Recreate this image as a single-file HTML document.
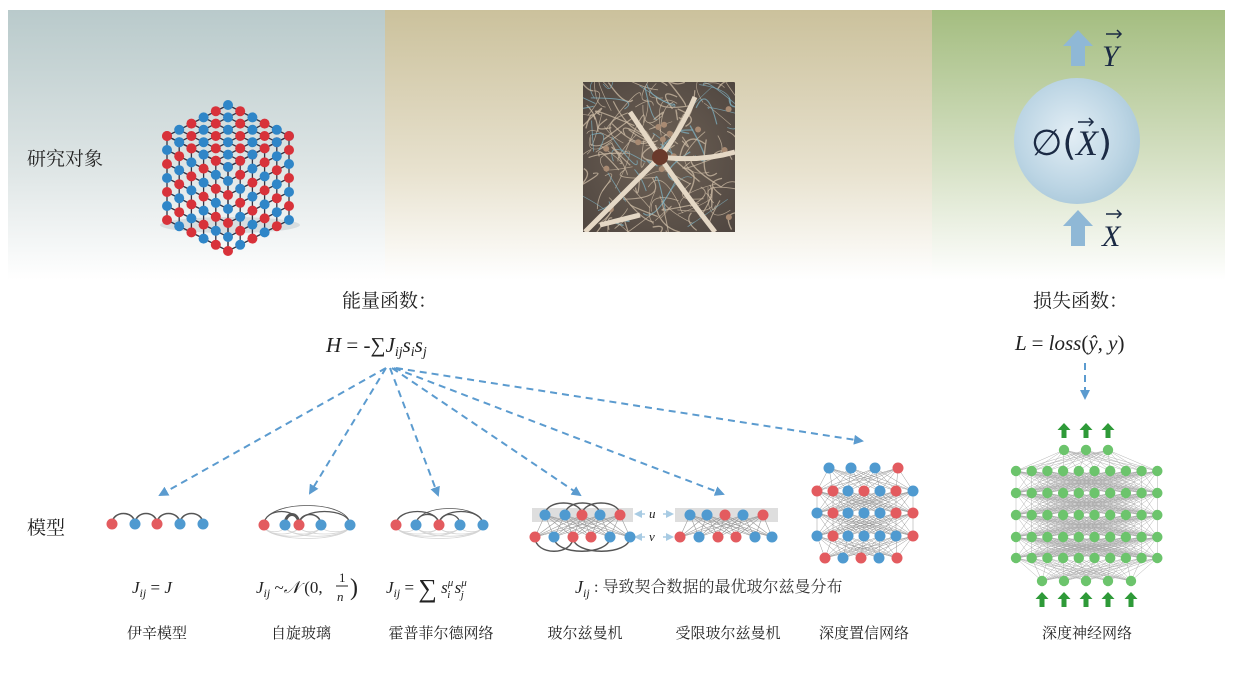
<!DOCTYPE html>
<html><head><meta charset="utf-8">
<style>
html,body{margin:0;padding:0;background:#fff;width:1233px;height:678px;overflow:hidden}
svg{display:block}
text{font-family:"Liberation Serif","Noto Serif CJK SC",serif;fill:#222}
.cn{font-family:"Liberation Serif","Noto Serif CJK SC",serif}
.m{font-family:"Liberation Serif","DejaVu Serif",serif;font-style:italic}
</style></head><body>
<svg id="s" width="1233" height="678" viewBox="0 0 1233 678" xmlns="http://www.w3.org/2000/svg">
<defs>
<linearGradient id="g1" x1="0" y1="0" x2="0" y2="1"><stop offset="0" stop-color="#b9cacb"/><stop offset="0.6" stop-color="#dfe6e6"/><stop offset="1" stop-color="#ffffff"/></linearGradient>
<linearGradient id="g2" x1="0" y1="0" x2="0" y2="1"><stop offset="0" stop-color="#cbc19c"/><stop offset="0.6" stop-color="#e8e2cf"/><stop offset="1" stop-color="#ffffff"/></linearGradient>
<linearGradient id="g3" x1="0" y1="0" x2="0" y2="1"><stop offset="0" stop-color="#a4bd80"/><stop offset="0.6" stop-color="#d9e3c9"/><stop offset="1" stop-color="#ffffff"/></linearGradient>
<radialGradient id="gc" cx="0.45" cy="0.45" r="0.6"><stop offset="0" stop-color="#e3eef5"/><stop offset="0.7" stop-color="#bcd5e4"/><stop offset="1" stop-color="#a9c8da"/></radialGradient>
<radialGradient id="gn" cx="0.5" cy="0.5" r="0.7"><stop offset="0" stop-color="#6f6256"/><stop offset="1" stop-color="#4f4640"/></radialGradient>
<clipPath id="nc"><rect x="583" y="82" width="152" height="150"/></clipPath>
<marker id="ah" markerWidth="10" markerHeight="10" refX="8" refY="5" orient="auto" markerUnits="userSpaceOnUse"><path d="M0,0 L10,5 L0,10 z" fill="#5b9bcf"/></marker>
<marker id="ah2" markerWidth="8" markerHeight="8" refX="6" refY="4" orient="auto" markerUnits="userSpaceOnUse"><path d="M0,0 L8,4 L0,8 z" fill="#a8cbe3"/></marker>
</defs>
<rect x="8" y="10" width="377" height="270" fill="url(#g1)"/>
<rect x="385" y="10" width="547" height="270" fill="url(#g2)"/>
<rect x="932" y="10" width="293" height="270" fill="url(#g3)"/>
<g id="cube"></g>
<rect x="583" y="82" width="152" height="150" fill="url(#gn)"/>
<g id="neur" clip-path="url(#nc)" fill="none"></g>
<text x="27" y="165" class="cn" font-size="19">研究对象</text>
<circle cx="1077" cy="141" r="63" fill="url(#gc)"/>
<text x="1031" y="155" font-size="36" style="font-family:'DejaVu Sans',sans-serif;fill:#1b2a44">∅(</text>
<text x="1076" y="155" class="m" font-size="36" style="fill:#1b2a44">X</text>
<text x="1098" y="155" font-size="36" style="font-family:'DejaVu Sans',sans-serif;fill:#1b2a44">)</text>
<path d="M1078,122 l14,0 M1089,118 l4,4 -4,4" stroke="#1b2a44" stroke-width="1.5" fill="none"/>
<path d="M1071,66 v-20 h-8 l15,-16 l15,16 h-8 v20z" fill="#8fb8d6"/>
<text x="1102" y="66" class="m" font-size="30" style="fill:#1b2a44">Y</text>
<path d="M1106,34 l14,0 M1117,30 l4,4 -4,4" stroke="#1b2a44" stroke-width="1.5" fill="none"/>
<path d="M1071,246 v-20 h-8 l15,-16 l15,16 h-8 v20z" fill="#8fb8d6"/>
<text x="1102" y="246" class="m" font-size="30" style="fill:#1b2a44">X</text>
<path d="M1106,214 l14,0 M1117,210 l4,4 -4,4" stroke="#1b2a44" stroke-width="1.5" fill="none"/>

<text x="342" y="307" class="cn" font-size="19">能量函数：</text>
<text x="326" y="352" class="m" font-size="21">H <tspan style="font-style:normal">= -∑</tspan>J<tspan font-size="14" dy="4">ij</tspan><tspan dy="-4">s</tspan><tspan font-size="14" dy="4">i</tspan><tspan dy="-4">s</tspan><tspan font-size="14" dy="4">j</tspan></text>
<text x="1033" y="307" class="cn" font-size="19">损失函数：</text>
<text x="1015" y="350" class="m" font-size="21">L <tspan style="font-style:normal">=</tspan> loss<tspan style="font-style:normal">(</tspan>ŷ, y<tspan style="font-style:normal">)</tspan></text>
<g stroke="#5b9bcf" stroke-width="2" stroke-dasharray="7,5" fill="none">
<line x1="1085" y1="363" x2="1085" y2="398" marker-end="url(#ah)"/>
<line x1="386" y1="368" x2="160" y2="495" marker-end="url(#ah)"/>
<line x1="386" y1="368" x2="310" y2="493" marker-end="url(#ah)"/>
<line x1="390" y1="368" x2="438" y2="495" marker-end="url(#ah)"/>
<line x1="392" y1="368" x2="580" y2="495" marker-end="url(#ah)"/>
<line x1="394" y1="368" x2="723" y2="494" marker-end="url(#ah)"/>
<line x1="396" y1="368" x2="862" y2="441" marker-end="url(#ah)"/>
</g>
<text x="27" y="534" class="cn" font-size="19">模型</text>
<rect x="532" y="508" width="101" height="14" fill="#dedede"/>
<rect x="675" y="508" width="103" height="14" fill="#dedede"/>
<g stroke="#a8cbe3" stroke-width="1.5" fill="none">
<line x1="645" y1="514" x2="636" y2="514" marker-end="url(#ah2)"/><line x1="663" y1="514" x2="672" y2="514" marker-end="url(#ah2)"/>
<line x1="645" y1="537" x2="636" y2="537" marker-end="url(#ah2)"/><line x1="663" y1="537" x2="672" y2="537" marker-end="url(#ah2)"/>
</g>
<text x="649" y="518" class="m" font-size="13">u</text>
<text x="649" y="541" class="m" font-size="13">v</text>
<g id="nets"></g>

<text x="132" y="593" class="m" font-size="17">J<tspan font-size="12" dy="4">ij</tspan><tspan dy="-4" style="font-style:normal"> = </tspan>J</text>
<text x="256" y="593" class="m" font-size="17">J<tspan font-size="12" dy="4">ij</tspan><tspan dy="-4" style="font-style:normal"> ~</tspan>𝒩<tspan style="font-style:normal"> (0, </tspan></text>
<text x="339" y="582" font-size="13">1</text><line x1="336" y1="586" x2="348" y2="586" stroke="#222"/><text x="337" y="601" class="m" font-size="13">n</text>
<text x="350" y="595" font-size="24">)</text>
<text x="386" y="593" class="m" font-size="17">J<tspan font-size="12" dy="4">ij</tspan><tspan dy="-4" style="font-style:normal"> = </tspan><tspan style="font-style:normal" font-size="26" dy="4">∑</tspan><tspan dy="-4"> s</tspan><tspan font-size="11" dy="-7">μ</tspan><tspan font-size="11" dx="-6" dy="12">i</tspan><tspan dy="-5"> s</tspan><tspan font-size="11" dy="-7">μ</tspan><tspan font-size="11" dx="-6" dy="12">j</tspan></text>
<text x="575" y="593" class="m" font-size="18">J<tspan font-size="12" dy="4">ij</tspan></text>
<text x="594" y="592" class="cn" font-size="16" style="fill:#333">:  导致契合数据的最优玻尔兹曼分布</text>

<g font-size="15" text-anchor="middle">
<text x="157" y="638" class="cn">伊辛模型</text>
<text x="301" y="638" class="cn">自旋玻璃</text>
<text x="441" y="638" class="cn">霍普菲尔德网络</text>
<text x="585" y="638" class="cn">玻尔兹曼机</text>
<text x="728" y="638" class="cn">受限玻尔兹曼机</text>
<text x="864" y="638" class="cn">深度置信网络</text>
<text x="1087" y="638" class="cn">深度神经网络</text>
</g>
</svg>
<script>
var NS="http://www.w3.org/2000/svg",R="#e35b5f",B="#4f9ad0",G="#6cc46c";
function el(p,t,a){var e=document.createElementNS(NS,t);for(var k in a)e.setAttribute(k,a[k]);p.appendChild(e);return e;}
var nets=document.getElementById("nets");
function line(x1,y1,x2,y2,c,w){el(nets,"line",{x1:x1,y1:y1,x2:x2,y2:y2,stroke:c||"#aaa","stroke-width":w||0.6});}
function dot(x,y,c,r){el(nets,"circle",{cx:x,cy:y,r:r||5.5,fill:c});}
function arc(x1,x2,y,h,c,w){el(nets,"path",{d:"M"+x1+","+y+" C"+x1+","+(y-h)+" "+x2+","+(y-h)+" "+x2+","+y,stroke:c||"#555","stroke-width":w||1.5,fill:"none"});}
function arcD(x1,x2,y,h){el(nets,"path",{d:"M"+x1+","+y+" C"+x1+","+(y+h)+" "+x2+","+(y+h)+" "+x2+","+y,stroke:"#d4d4d4","stroke-width":0.8,fill:"none"});}
var ix=[112,135,157,180,203],ic=[R,B,R,B,B];
for(var i=0;i<4;i++)arc(ix[i],ix[i+1],524,14,"#555",1.6);
ix.forEach(function(x,i){dot(x,524,ic[i]);});
function full(xs,cs,y,pairs){for(var i=0;i<xs.length;i++)for(var j=i+1;j<xs.length;j++){arcD(xs[i],xs[j],y,6+(j-i)*3);}
pairs.forEach(function(p){arc(xs[p[0]],xs[p[1]],y,10+(p[1]-p[0])*4,"#555",p[2]||1.3);});xs.forEach(function(x,i){dot(x,y,cs[i]);});}
full([264,285,299,321,350],[R,B,R,B,B],525,[[0,2,1.3],[1,2,3],[2,3,1.6],[2,4,1.2],[0,4,0.8]]);
full([396,416,439,460,483],[R,B,R,B,B],525,[[0,2],[1,2],[2,3],[2,4],[1,4,0.8]]);
var bt=[545,565,582,600,620],btc=[B,B,R,B,R],bb=[535,554,573,591,610,630],bbc=[R,B,R,R,B,B];
bt.forEach(function(a){bb.forEach(function(b){line(a,515,b,537,"#999",0.6);});});
arc(545,582,515,16,"#555",1.4);arc(565,600,515,16,"#555",1.4);arc(582,620,515,16,"#555",1.4);
el(nets,"path",{d:"M535,537 C535,556 573,556 573,537 M554,537 C554,556 610,556 610,537 M573,537 C573,556 630,556 630,537",stroke:"#555","stroke-width":1.4,fill:"none"});
bt.forEach(function(x,i){dot(x,515,btc[i]);});bb.forEach(function(x,i){dot(x,537,bbc[i]);});
var rt=[690,707,725,743,763],rtc=[B,B,R,B,R],rb=[680,699,718,736,755,772],rbc=[R,B,R,R,B,B];
rt.forEach(function(a){rb.forEach(function(b){line(a,515,b,537,"#999",0.6);});});
rt.forEach(function(x,i){dot(x,515,rtc[i]);});rb.forEach(function(x,i){dot(x,537,rbc[i]);});
var rows=[[468,[829,851,875,898],[B,B,B,R]],[491,[817,833,848,864,880,896,913],[R,R,B,R,B,R,B]],[513,[817,833,848,864,880,896,913],[B,R,B,B,B,R,R]],[536,[817,833,848,864,880,896,913],[B,R,B,B,B,B,R]],[558,[825,843,861,879,897],[R,B,R,B,R]]];
for(var r=0;r<rows.length-1;r++)rows[r][1].forEach(function(a){rows[r+1][1].forEach(function(b){line(a,rows[r][0],b,rows[r+1][0],"#999",0.5);});});
rows.forEach(function(r){r[1].forEach(function(x,i){dot(x,r[0],r[2][i]);});});
var drows=[[450,[1064,1086,1108]]];
var ten=[];for(var i=0;i<10;i++)ten.push(1016+i*15.7);
[471,493,515,537,558].forEach(function(y){drows.push([y,ten]);});
drows.push([581,[1042,1064,1086,1108,1131]]);
for(var r=0;r<drows.length-1;r++)drows[r][1].forEach(function(a){drows[r+1][1].forEach(function(b){line(a,drows[r][0],b,drows[r+1][0],"#aaa",0.45);});});
drows.forEach(function(r){r[1].forEach(function(x){dot(x,r[0],G,5.2);});});
function garr(x,y){el(nets,"path",{d:"M"+(x-2.5)+","+(y+14)+" v-8 h-4 l6.5,-7 l6.5,7 h-4 v8z",fill:"#2e9a38"});}
[1064,1086,1108].forEach(function(x){garr(x,424);});
[1042,1064,1086,1108,1131].forEach(function(x){garr(x,593);});
// cube
var cube=document.getElementById("cube");
el(cube,"ellipse",{cx:230,cy:225,rx:70,ry:8,fill:"#c8cfd2",opacity:0.6});
var ox=228,oy=153;
function proj(u,v,h){return [ox+(v-u)*12.2, oy-48+(u+v)*6.2+h*14];}
var nodes=[];
for(var h=0;h<7;h++){for(var u=0;u<=5;u++){nodes.push([proj(u,5,h),u+h]);}for(var v=0;v<5;v++){nodes.push([proj(5,v,h),v+h+1]);}}
for(var u=0;u<=5;u++)for(var v=0;v<=5;v++)nodes.push([proj(u,v,0),u+v]);
for(var h=0;h<6;h++){for(var u=0;u<=5;u++){var a=proj(u,5,h),b=proj(u,5,h+1);el(cube,"line",{x1:a[0],y1:a[1],x2:b[0],y2:b[1],stroke:"#334","stroke-width":1.3});var a2=proj(5,u,h),b2=proj(5,u,h+1);el(cube,"line",{x1:a2[0],y1:a2[1],x2:b2[0],y2:b2[1],stroke:"#334","stroke-width":1.3});}}
for(var h=0;h<7;h++){var a=proj(0,5,h),b=proj(5,5,h),c=proj(5,0,h);el(cube,"polyline",{points:a+" "+b+" "+c,stroke:"#334","stroke-width":1.3,fill:"none"});}
for(var k=0;k<=5;k++){var a=proj(k,0,0),b=proj(k,5,0),c=proj(0,k,0),d=proj(5,k,0);el(cube,"line",{x1:a[0],y1:a[1],x2:b[0],y2:b[1],stroke:"#334","stroke-width":1.3});el(cube,"line",{x1:c[0],y1:c[1],x2:d[0],y2:d[1],stroke:"#334","stroke-width":1.3});}
nodes.forEach(function(n,i){el(cube,"circle",{cx:n[0][0],cy:n[0][1],r:5,fill:(n[1]%2?"#d8323a":"#2f86c8")});});
// neurons
var ng=document.getElementById("neur");var s=7;
function rnd(){s=(s*9301+49297)%233280;return s/233280;}
for(var i=0;i<160;i++){var x=583+rnd()*152,y=82+rnd()*150;el(ng,"path",{d:"M"+x+","+y+" q"+(rnd()*50-25)+","+(rnd()*50-25)+" "+(rnd()*70-35)+","+(rnd()*70-35),stroke:(rnd()<0.15?"#7fb0c0":"#cdbca6"),"stroke-width":0.6+rnd()*0.8,opacity:0.75});}
for(var i=0;i<14;i++){el(ng,"circle",{cx:590+rnd()*140,cy:88+rnd()*138,r:3,fill:"#a88a72"});}
el(ng,"path",{d:"M585,232 q30,-30 75,-75 M660,157 q20,-25 35,-60 M660,157 q20,30 55,75 M660,157 l-30,-45 M640,215 l-40,10 M660,157 q40,5 75,-5",stroke:"#e5d8c5","stroke-width":5});
el(ng,"circle",{cx:660,cy:157,r:8,fill:"#6a3a2c"});
</script>
</body></html>
